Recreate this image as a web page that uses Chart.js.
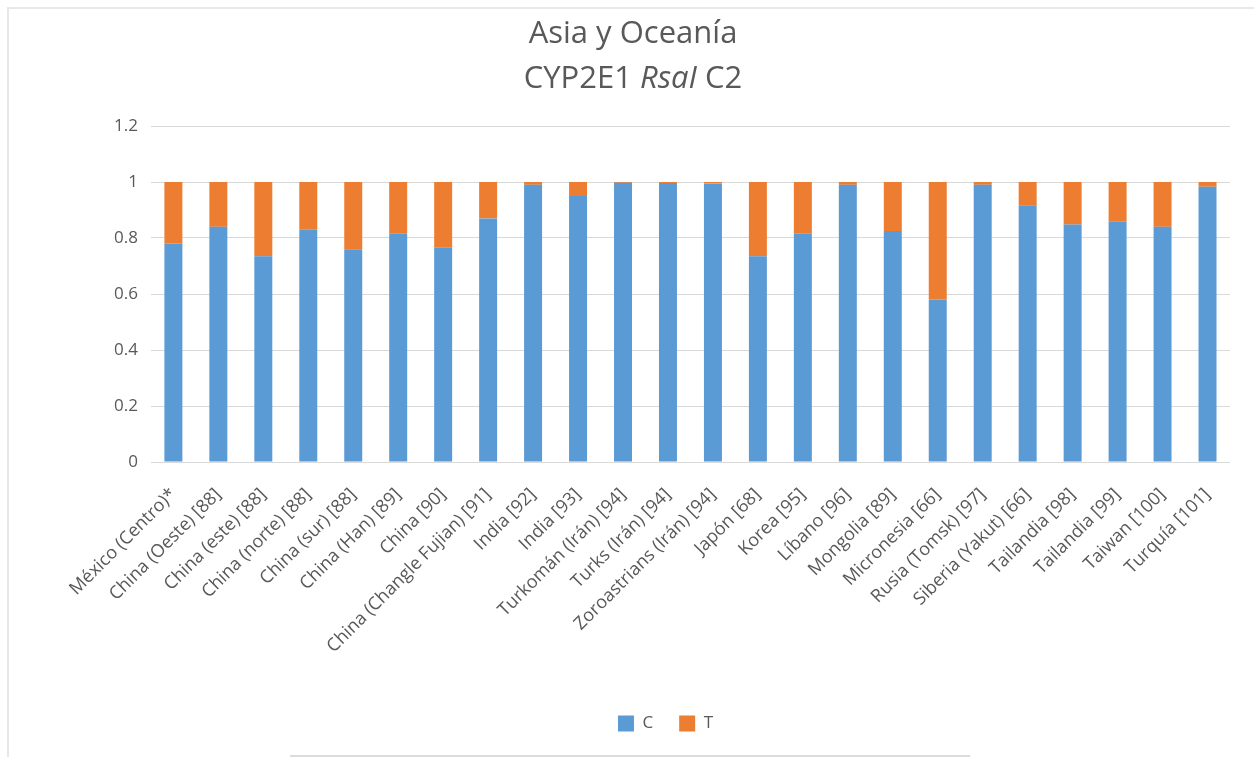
<!DOCTYPE html>
<html lang="es">
<head>
<meta charset="utf-8">
<title>Asia y Oceanía - CYP2E1 RsaI C2</title>
<script src="https://cdn.jsdelivr.net/npm/chart.js@4/dist/chart.umd.min.js"></script>
<style>
  html, body { margin: 0; padding: 0; background: #fff; }
  #marco { position: relative; width: 1254px; height: 757px; overflow: hidden; }
  #borde { position: absolute; left: 7px; top: 7px; right: 0; bottom: -4px;
           border-top: 2px solid #e8e8e8; border-left: 2px solid #e8e8e8; }
  #pie { position: absolute; left: 290px; width: 680px; bottom: 0; height: 2px; background: #dcdce0; }
  #grafico { position: absolute; left: 0; top: 0; width: 1254px; height: 757px; }
</style>
</head>
<body>
<div id="marco">
  <div id="borde"></div>
  <div id="pie"></div>
  <div id="grafico"><canvas id="lienzo"></canvas></div>
</div>
<script>
// Poblaciones y frecuencias alélicas
const categorias = [
  'México (Centro)*', 'China (Oeste) [88]', 'China (este) [88]', 'China (norte) [88]',
  'China (sur) [88]', 'China (Han) [89]', 'China [90]', 'China (Changle Fujian) [91]',
  'India [92]', 'India [93]', 'Turkomán (Irán) [94]', 'Turks (Irán) [94]',
  'Zoroastrians (Irán) [94]', 'Japón [68]', 'Korea [95]', 'Líbano [96]',
  'Mongolia [89]', 'Micronesia [66]', 'Rusia (Tomsk) [97]', 'Siberia (Yakut) [66]',
  'Tailandia [98]', 'Tailandia [99]', 'Taiwan [100]', 'Turquía [101]'
];
const valoresC = [0.78, 0.84, 0.735, 0.83, 0.76, 0.815, 0.765, 0.87, 0.99, 0.95, 0.997, 0.996,
                  0.995, 0.735, 0.815, 0.99, 0.825, 0.58, 0.99, 0.915, 0.848, 0.86, 0.84, 0.983];
const valoresT = [0.22, 0.16, 0.265, 0.17, 0.24, 0.185, 0.235, 0.13, 0.01, 0.05, 0.003, 0.004,
                  0.005, 0.265, 0.185, 0.01, 0.175, 0.42, 0.01, 0.085, 0.152, 0.14, 0.16, 0.017];
const ticksY = [0, 0.2, 0.4, 0.6, 0.8, 1, 1.2];

const fuente = '"Open Sans", Lato, sans-serif';
const gris = '#595959';

// Título en dos líneas, con "RsaI" en cursiva
const tituloMixto = {
  id: 'tituloMixto',
  afterDraw(chart) {
    const ctx = chart.ctx;
    const cx = chart.width / 2 + 6;
    const lineas = [
      { y: 34, partes: [['Asia y Oceanía', 'normal']] },
      { y: 79, partes: [['CYP2E1 ', 'normal'], ['RsaI', 'italic'], [' C2', 'normal']] }
    ];
    ctx.save();
    ctx.fillStyle = gris;
    ctx.textBaseline = 'middle';
    ctx.textAlign = 'left';
    for (const l of lineas) {
      let total = 0;
      for (const [t, s] of l.partes) {
        ctx.font = s + ' 31px ' + fuente;
        total += ctx.measureText(t).width;
      }
      let x = cx - total / 2;
      for (const [t, s] of l.partes) {
        ctx.font = s + ' 31px ' + fuente;
        ctx.fillText(t, x, l.y);
        x += ctx.measureText(t).width;
      }
    }
    ctx.restore();
  }
};

new Chart(document.getElementById('lienzo'), {
  type: 'bar',
  data: {
    labels: categorias,
    datasets: [
      { label: 'C', data: valoresC, backgroundColor: '#5b9bd5' },
      { label: 'T', data: valoresT, backgroundColor: '#ed7d31' }
    ]
  },
  options: {
    responsive: true,
    maintainAspectRatio: false,
    animation: false,
    categoryPercentage: 0.8,
    barPercentage: 0.5,
    layout: { padding: { left: 101, right: 24, top: 126, bottom: 15 } },
    plugins: {
      title: { display: false },
      tooltip: { enabled: false },
      legend: {
        position: 'bottom',
        labels: {
          boxWidth: 16, boxHeight: 16, padding: 26,
          color: gris, font: { family: fuente, size: 17 }
        }
      }
    },
    scales: {
      x: {
        stacked: true,
        grid: { display: false },
        border: { display: false },
        ticks: {
          color: gris, font: { family: fuente, size: 18 },
          maxRotation: 45, minRotation: 45, autoSkip: false, padding: 14
        },
        afterFit(scale) { scale.height = 227; }
      },
      y: {
        stacked: true,
        min: 0, max: 1.2,
        afterBuildTicks(scale) { scale.ticks = ticksY.map(v => ({ value: v })); },
        grid: { color: '#d9d9d9', lineWidth: 1, drawTicks: false },
        border: { display: false },
        ticks: {
          color: gris, font: { family: fuente, size: 17 }, padding: 13,
          callback: (v) => String(v)
        }
      }
    }
  },
  plugins: [tituloMixto]
});
</script>
</body>
</html>
